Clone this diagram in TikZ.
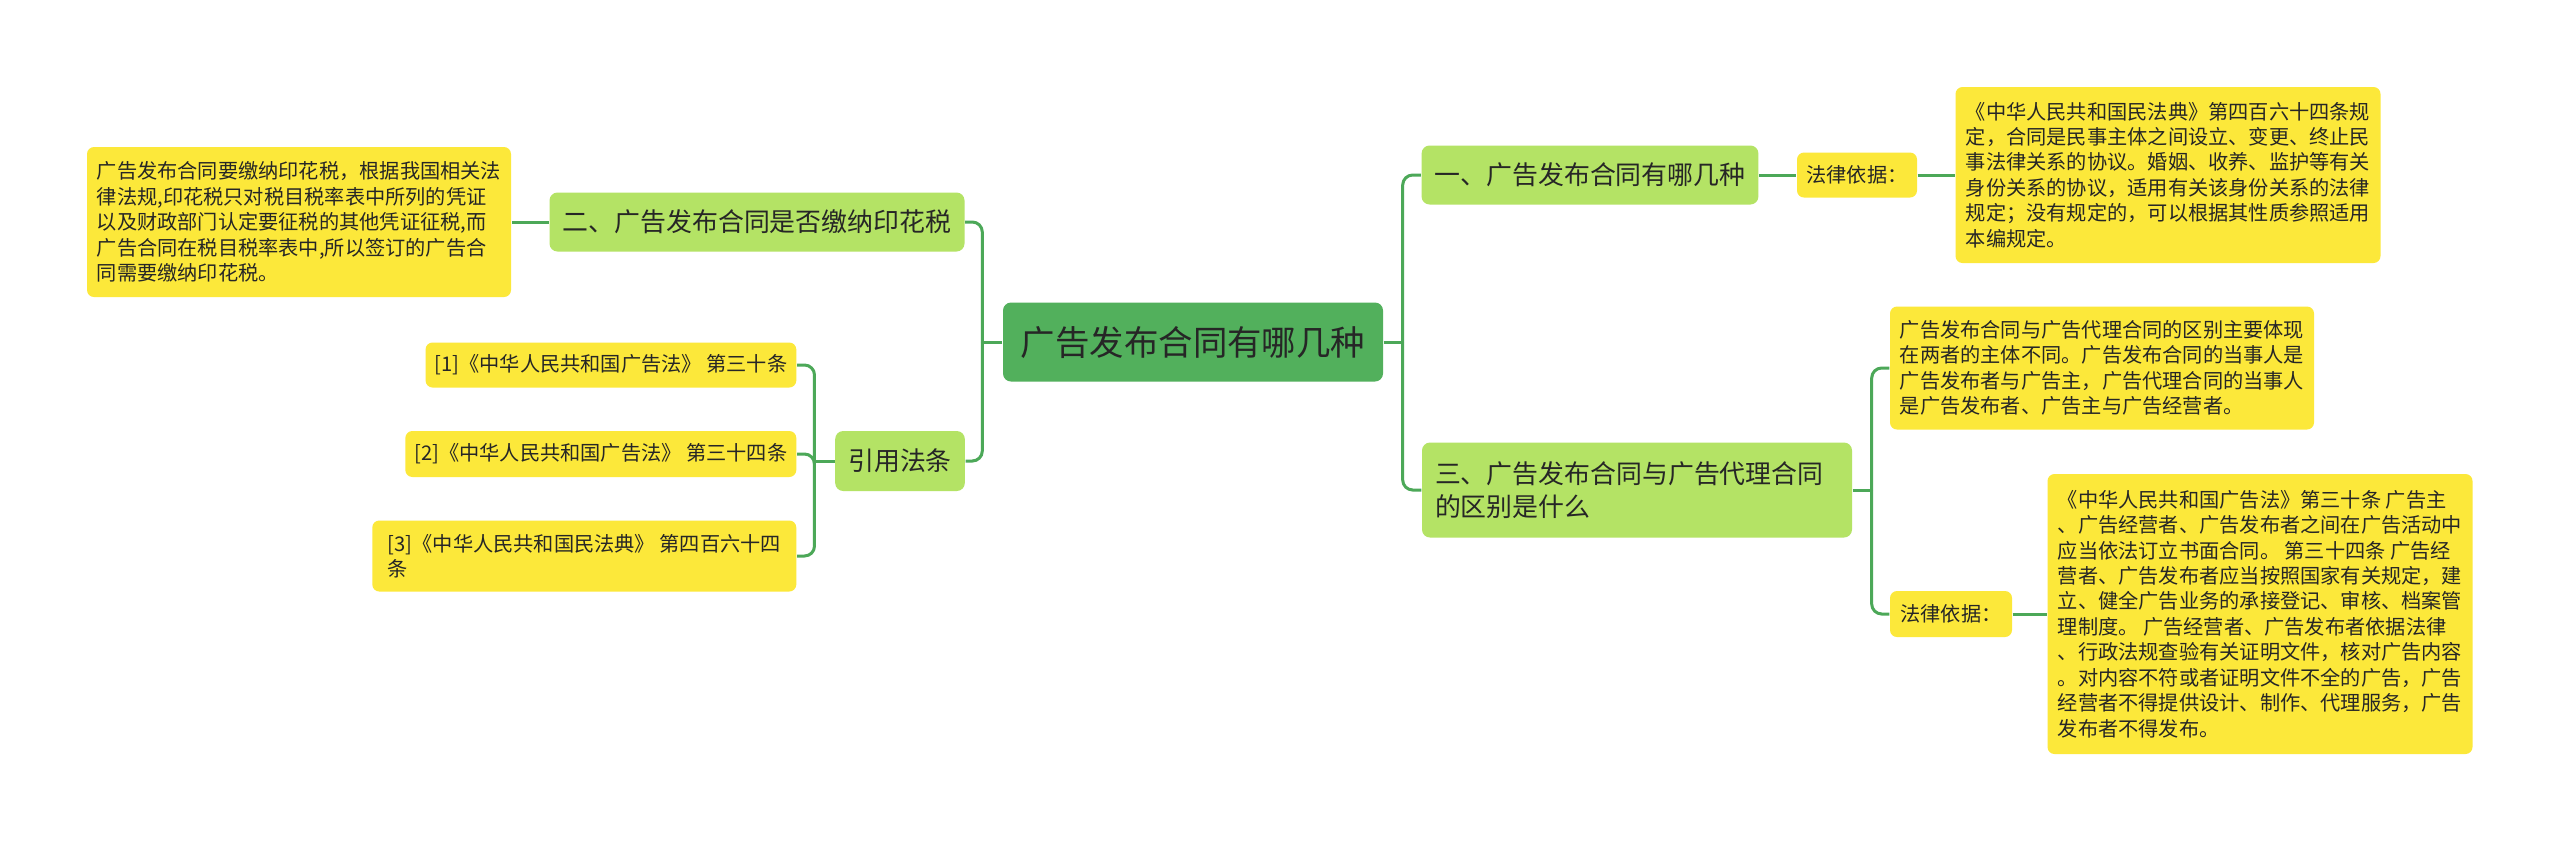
\documentclass[tikz,border=0pt]{standalone}
\usepackage{fontspec}
\setmainfont{Noto Sans CJK SC}
\usepackage{xcolor}

\definecolor{rootgreen}{RGB}{82,176,92}
\definecolor{topicgreen}{RGB}{180,227,101}
\definecolor{noteyellow}{RGB}{252,232,58}
\definecolor{linkgreen}{RGB}{76,168,88}
\definecolor{inkgray}{RGB}{38,38,38}

\begin{document}
\begin{tikzpicture}[
    x=0.1mm, y={(0,-0.1mm)},
    mainbox/.style={fill=rootgreen, rounded corners=0.8mm, minimum width=38mm,
               minimum height=7.9mm, inner sep=0pt, text=inkgray,
               font=\fontsize{9.8pt}{12pt}\selectfont},
    subbox/.style={fill=topicgreen, rounded corners=0.8mm, inner xsep=1.3mm,
               inner ysep=0pt, align=left, text=inkgray,
               font=\fontsize{7.37pt}{9.4pt}\selectfont},
    notebox/.style={fill=noteyellow, rounded corners=0.7mm, inner xsep=0.9mm,
               inner ysep=0pt, align=left, text=inkgray,
               font=\fontsize{5.75pt}{7.25pt}\selectfont},
    link/.style={draw=linkgreen, line width=0.3mm, rounded corners=1mm}
]
% page frame (pixel units)
\useasboundingbox[fill=white] (0,0) rectangle (2560,841);

% centre
\node[mainbox] (root) at (1193,342) {广告发布合同有哪几种};

% right side, upper branch
\node[subbox, minimum width=33.6mm, minimum height=5.9mm] (kinds) at (1590,175)
    {一、广告发布合同有哪几种};
\node[notebox, minimum width=12mm, minimum height=4.5mm] (basisA) at (1857,175)
    {法律依据：};
\node[notebox, minimum width=42.5mm, minimum height=17.6mm] (civil) at (2168,175)
    {《中华人民共和国民法典》第四百六十四条规\\
     定，合同是民事主体之间设立、变更、终止民\\
     事法律关系的协议。婚姻、收养、监护等有关\\
     身份关系的协议，适用有关该身份关系的法律\\
     规定；没有规定的，可以根据其性质参照适用\\
     本编规定。};

% right side, lower branch
\node[subbox, text width=40.4mm, minimum height=9.5mm] (diff) at (1637,490)
    {三、广告发布合同与广告代理合同\\的区别是什么};
\node[notebox, minimum width=42.4mm, minimum height=12.3mm] (parties) at (2102,368)
    {广告发布合同与广告代理合同的区别主要体现\\
     在两者的主体不同。广告发布合同的当事人是\\
     广告发布者与广告主，广告代理合同的当事人\\
     是广告发布者、广告主与广告经营者。};
\node[notebox, minimum width=12.2mm, minimum height=4.6mm] (basisB) at (1951,614)
    {法律依据：};
\node[notebox, minimum width=42.5mm, minimum height=28mm] (adlaw) at (2260,614)
    {《中华人民共和国广告法》第三十条 广告主\\
     、广告经营者、广告发布者之间在广告活动中\\
     应当依法订立书面合同。 第三十四条 广告经\\
     营者、广告发布者应当按照国家有关规定，建\\
     立、健全广告业务的承接登记、审核、档案管\\
     理制度。 广告经营者、广告发布者依据法律\\
     、行政法规查验有关证明文件，核对广告内容\\
     。对内容不符或者证明文件不全的广告，广告\\
     经营者不得提供设计、制作、代理服务，广告\\
     发布者不得发布。};

% left side, upper branch
\node[subbox, minimum width=41.5mm, minimum height=5.9mm] (stamp) at (757,222)
    {二、广告发布合同是否缴纳印花税};
\node[notebox, minimum width=42.4mm, minimum height=15mm] (tax) at (299,222)
    {广告发布合同要缴纳印花税，根据我国相关法\\
     律法规,印花税只对税目税率表中所列的凭证\\
     以及财政部门认定要征税的其他凭证征税,而\\
     广告合同在税目税率表中,所以签订的广告合\\
     同需要缴纳印花税。};

% left side, references
\node[subbox, minimum width=12.9mm, minimum height=6mm] (cite) at (900,461) {引用法条};
\node[notebox, anchor=east, minimum height=4.5mm] (refA) at (797,365)
    {[1]《中华人民共和国广告法》 第三十条};
\node[notebox, anchor=east, minimum height=4.6mm] (refB) at (797,454)
    {[2]《中华人民共和国广告法》 第三十四条};
\node[notebox, anchor=east, minimum width=42.4mm, minimum height=7.1mm] (refC) at (797,556)
    {[3]《中华人民共和国民法典》 第四百六十四\\条};

% connectors
\draw[link] (root.east) -- ++(19,0) coordinate (jR);
\draw[link] (jR) |- (kinds.west);
\draw[link] (jR) |- (diff.west);
\draw[link] (kinds.east) -- (basisA.west);
\draw[link] (basisA.east) -- (civil.west);
\draw[link] (diff.east) -- ++(19,0) coordinate (jD);
\draw[link] (jD) |- (parties.west);
\draw[link] (jD) |- (basisB.west);
\draw[link] (basisB.east) -- (adlaw.west);

\draw[link] (root.west) -- ++(-20,0) coordinate (jL);
\draw[link] (jL) |- (stamp.east);
\draw[link] (jL) |- (cite.east);
\draw[link] (stamp.west) -- (tax.east);
\draw[link] (cite.west) -- ++(-20,0) coordinate (jC);
\draw[link] (jC) |- (refA.east);
\draw[link] (jC) |- (refB.east);
\draw[link] (jC) |- (refC.east);

\end{tikzpicture}
\end{document}
